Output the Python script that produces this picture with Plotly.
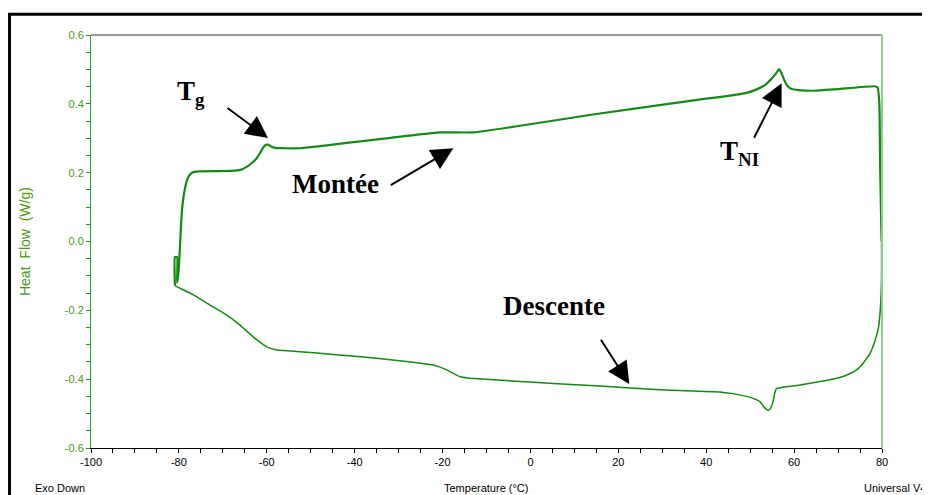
import plotly.graph_objects as go

# ---- data ----
# heating run ("Montée"), temperature in °C, heat flow in W/g
heat_T = [-80.9, -80.9, -80.4, -80.4, -80.1, -79.9, -79.7, -79.5, -79.3, -79.0, -78.6,
          -78.2, -77.6, -76.8, -75.6, -68.0, -66.0, -64.6, -63.4, -62.3, -61.5, -60.8,
          -60.2, -59.6, -59.0, -58.1, -56.0, -52.4, -20.6, -13.0, 15.8, 40.0, 45.0,
          49.2, 51.5, 53.5, 54.8, 55.8, 56.6, 57.2, 57.8, 58.5, 59.5, 61.0, 64.4, 70.0,
          78.4, 79.0, 79.4, 79.6, 79.9]
heat_Q = [-0.128, -0.045, -0.045, -0.12, -0.09, -0.05, 0.0, 0.05, 0.09, 0.125, 0.155,
          0.176, 0.193, 0.201, 0.204, 0.205, 0.208, 0.217, 0.228, 0.242, 0.258, 0.273,
          0.281, 0.281, 0.276, 0.272, 0.271, 0.271, 0.317, 0.317, 0.372, 0.415, 0.423,
          0.432, 0.442, 0.456, 0.472, 0.487, 0.501, 0.487, 0.468, 0.452, 0.443, 0.44,
          0.438, 0.443, 0.451, 0.447, 0.40, 0.2, 0.0]

# cooling run ("Descente")
cool_T = [79.9, 79.9, 79.8, 79.6, 79.2, 78.6, 78.1, 77.3, 76.5, 75.3, 74.2, 72.5, 70.4,
          65.9, 61.4, 56.0, 55.6, 55.3, 54.8, 54.3, 53.7, 53.0, 52.2, 50.5, 49.2, 46.0,
          43.1, 29.5, 15.8, 0.65, -13.75, -16.0, -19.05, -22.1, -26.7, -35.0, -44.9,
          -52.4, -57.7, -60.0, -63.1, -66.1, -69.1, -72.9, -76.7, -80.5, -80.9]
cool_Q = [0.0, -0.1, -0.15, -0.2, -0.25, -0.28, -0.3, -0.325, -0.34, -0.36, -0.373,
          -0.385, -0.395, -0.407, -0.417, -0.427, -0.44, -0.46, -0.48, -0.49, -0.488,
          -0.478, -0.465, -0.455, -0.45, -0.442, -0.437, -0.431, -0.42, -0.409, -0.397,
          -0.393, -0.373, -0.359, -0.351, -0.339, -0.328, -0.32, -0.315, -0.306, -0.277,
          -0.243, -0.214, -0.185, -0.155, -0.131, -0.128]

x_ticks = [-100, -80, -60, -40, -20, 0, 20, 40, 60, 80]
y_ticks = [-0.6, -0.4, -0.2, 0.0, 0.2, 0.4, 0.6]
y_tick_labels = ["-0.6", "-0.4", "-0.2", "0.0", "0.2", "0.4", "0.6"]

LINE = "#138a13"
GREEN_TXT = "#4a9a14"
NARROW = "Liberation Sans Narrow, Arial Narrow, Liberation Sans, Arial, sans-serif"
SERIF = "Liberation Serif, Times New Roman, serif"

fig = go.Figure()
fig.add_trace(go.Scatter(x=cool_T, y=cool_Q, mode="lines",
                         line=dict(color=LINE, width=1.5, shape="spline", smoothing=0.4),
                         showlegend=False))
fig.add_trace(go.Scatter(x=heat_T, y=heat_Q, mode="lines",
                         line=dict(color=LINE, width=2.2, shape="spline", smoothing=0.4),
                         showlegend=False))

# page body adds an 8 px offset, so the figure is 8 px smaller than the window
fig.update_layout(
    width=922, height=487,
    margin=dict(l=83, r=48, t=27, b=47),
    paper_bgcolor="white", plot_bgcolor="white",
    xaxis=dict(range=[-100, 80], tickvals=x_ticks, ticktext=[str(v) for v in x_ticks],
               showgrid=False, zeroline=False, showline=True, linecolor="black", linewidth=1,
               ticks="outside", ticklen=4, tickcolor="black",
               tickfont=dict(family=NARROW, size=11, color="black"),
               minor=dict(dtick=5, ticks="outside", ticklen=4, tickcolor="black")),
    yaxis=dict(range=[-0.6, 0.6], tickvals=y_ticks, ticktext=y_tick_labels,
               showgrid=False, zeroline=False, showline=True, linecolor="#2a9a2a", linewidth=1,
               ticks="outside", ticklen=4, tickcolor="#2a9a2a",
               tickfont=dict(family=NARROW, size=11, color=GREEN_TXT),
               minor=dict(dtick=0.05, ticks="outside", ticklen=4, tickcolor="#2a9a2a")),
)

# frame: outer black box, top border and green right border of the plot area
fig.add_shape(type="rect", xref="paper", yref="paper", x0=-0.103, x1=1.2, y0=-0.2, y1=1.05,
              line=dict(color="black", width=3), layer="below")
fig.add_shape(type="line", xref="paper", yref="paper", x0=0, x1=1, y0=1, y1=1,
              line=dict(color="#333333", width=1))
fig.add_shape(type="line", xref="paper", yref="paper", x0=1, x1=1, y0=0, y1=1,
              line=dict(color="#8fcc8f", width=2))

# texts
texts = [
    dict(text="T<sub>g</sub>", x=0.106, y=0.86, xanchor="left", size=27),
    dict(text="Montée", x=0.3097, y=0.64, xanchor="center", size=27),
    dict(text="Descente", x=0.5853, y=0.345, xanchor="center", size=27),
    dict(text="T<sub>NI</sub>", x=0.7927, y=0.715, xanchor="left", size=27),
]
for t in texts:
    fig.add_annotation(text="<b>" + t["text"] + "</b>", x=t["x"], y=t["y"], xref="paper",
                       yref="paper", xanchor=t["xanchor"], yanchor="middle", showarrow=False,
                       font=dict(family=SERIF, size=t["size"], color="black"))

# arrows (tail -> head) in data units
arrows = [
    ((-69.28, 0.391), (-59.72, 0.3007)),
    ((-32.12, 0.161), (-17.55, 0.2708)),
    ((15.83, -0.2813), (22.5, -0.414)),
    ((50.72, 0.297), (57.17, 0.4597)),
]
for (tx, ty), (hx, hy) in arrows:
    fig.add_annotation(x=hx, y=hy, ax=tx, ay=ty, xref="x", yref="y", axref="x", ayref="y",
                       text="", showarrow=True, arrowhead=2, arrowsize=2.2, arrowwidth=2,
                       arrowcolor="black", standoff=0)

fig.add_annotation(text="Exo Down", x=-0.0392, y=-0.0969, xref="paper", yref="paper",
                   xanchor="center", yanchor="middle", showarrow=False,
                   font=dict(family=NARROW, size=11, color="black"))
fig.add_annotation(text="Temperature (°C)", x=0.4994, y=-0.0969, xref="paper", yref="paper",
                   xanchor="center", yanchor="middle", showarrow=False,
                   font=dict(family=NARROW, size=11, color="black"))
fig.add_annotation(text="Universal V4.5", x=0.9747, y=-0.0969, xref="paper", yref="paper",
                   xanchor="left", yanchor="middle", showarrow=False,
                   font=dict(family=NARROW, size=11, color="black"))
fig.add_annotation(text="Heat  Flow  (W/g)", x=-0.0834, y=0.4988, xref="paper", yref="paper",
                   xanchor="center", yanchor="middle", textangle=-90, showarrow=False,
                   font=dict(family="Liberation Sans, Arial, sans-serif", size=14, color=GREEN_TXT))

fig.write_html("out.html")
